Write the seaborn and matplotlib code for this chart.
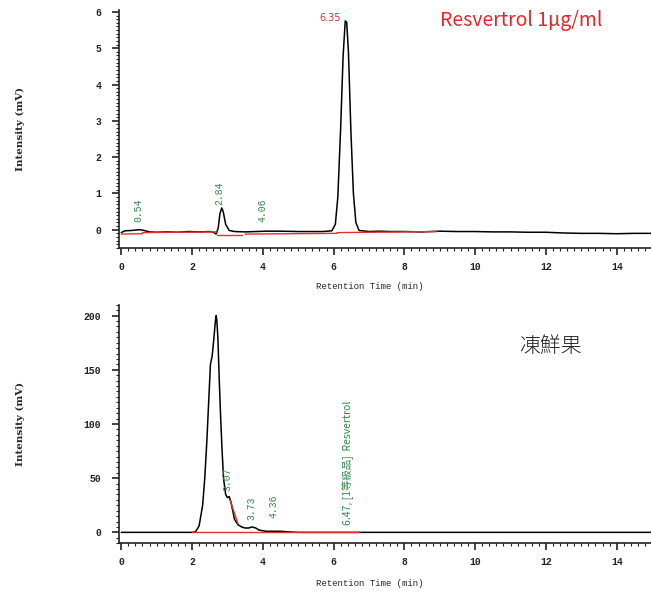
import matplotlib
matplotlib.use("Agg")
import matplotlib.pyplot as plt
import seaborn as sns
import pandas as pd
from matplotlib.ticker import MultipleLocator

# ---- data: standard (top) ----
std_time = [0.0, 0.1, 0.3, 0.5, 0.6, 0.8, 1.0, 1.3, 1.6, 1.9, 2.2, 2.5, 2.6, 2.68,
            2.74, 2.79, 2.84, 2.88, 2.95, 3.05, 3.2, 3.5, 3.8, 4.1, 4.5, 5.0, 5.4,
            5.7, 5.95, 6.05, 6.12, 6.2, 6.27, 6.33, 6.37, 6.42, 6.49, 6.56, 6.63,
            6.72, 7.0, 7.3, 7.6, 8.0, 8.5, 9.0, 9.5, 10.0, 10.5, 11.0, 11.5, 12.0,
            12.5, 13.0, 13.5, 14.0, 14.5, 15.0]
std_mv = [-0.08, -0.03, -0.02, 0.0, -0.01, -0.06, -0.07, -0.06, -0.07, -0.05, -0.06,
          -0.05, -0.07, -0.12, 0.05, 0.45, 0.6, 0.5, 0.15, -0.02, -0.05, -0.06,
          -0.05, -0.04, -0.04, -0.05, -0.05, -0.05, -0.03, 0.15, 0.9, 2.8, 4.8,
          5.75, 5.72, 4.9, 2.7, 1.0, 0.2, -0.02, -0.05, -0.04, -0.05, -0.05,
          -0.06, -0.04, -0.05, -0.05, -0.06, -0.06, -0.07, -0.07, -0.09, -0.10,
          -0.10, -0.11, -0.10, -0.10]
std_base_start = [0.0, 0.6, 2.7, 3.5, 6.1]
std_base_end = [0.6, 2.7, 3.4, 6.1, 8.9]
std_base_y0 = [-0.12, -0.08, -0.15, -0.12, -0.08]
std_base_y1 = [-0.11, -0.06, -0.15, -0.10, -0.05]
std_peak_rt = [0.54, 2.84, 4.06]
std_peak_lbl = ["0.54", "2.84", "4.06"]
std_peak_y = [0.22, 0.69, 0.22]

# ---- data: frozen fruit (bottom) ----
fr_time = [0.0, 1.0, 2.0, 2.1, 2.2, 2.3, 2.36, 2.42, 2.47, 2.52, 2.57, 2.62, 2.66,
           2.68, 2.7, 2.73, 2.77, 2.81, 2.85, 2.89, 2.95, 3.0, 3.05, 3.1, 3.15,
           3.2, 3.3, 3.4, 3.5, 3.6, 3.7, 3.8, 3.9, 4.0, 4.1, 4.3, 4.5, 4.7, 5.0,
           6.0, 7.0, 9.0, 11.0, 13.0, 15.0]
fr_mv = [0.0, 0.0, 0.0, 0.5, 6, 25, 50, 85, 120, 155, 163, 180, 195, 200, 196, 180,
         140, 105, 75, 50, 35, 32, 33, 28, 20, 12, 7, 5, 4, 4, 5, 4, 2, 1.5, 1, 1,
         1, 0.5, 0, 0, 0, 0, 0, 0, 0]
fr_base_start = [2.0, 3.07]
fr_base_end = [6.7, 3.3]
fr_base_y0 = [0.0, 30]
fr_base_y1 = [0.0, 8]
fr_peak_rt = [3.07, 3.73, 4.36, 6.47]
fr_peak_lbl = ["3.07", "3.73", "4.36", "6.47, [1等級品]  Resvertrol"]
fr_peak_y = [38, 11, 13, 6.5]

sns.set_style("ticks")
plt.rcParams['font.family'] = ['Liberation Mono', 'DejaVu Sans']

fig = plt.figure(figsize=(6.51, 5.93), dpi=100)
ax1 = fig.add_axes([0.183, 0.582, 0.817, 0.401])
ax2 = fig.add_axes([0.183, 0.084, 0.817, 0.402])

def style(ax, ylim, ymajor, yminor, xlab_y):
    ax.set_xlim(-0.06, 14.97)
    ax.set_ylim(*ylim)
    ax.xaxis.set_major_locator(MultipleLocator(2))
    ax.xaxis.set_minor_locator(MultipleLocator(0.2))
    ax.yaxis.set_major_locator(MultipleLocator(ymajor))
    ax.yaxis.set_minor_locator(MultipleLocator(yminor))
    ax.tick_params(axis='both', which='major', length=5, width=1.2, labelsize=7,
                   colors='#222222')
    ax.tick_params(axis='y', which='major', pad=8)
    ax.tick_params(axis='x', which='major', pad=5)
    ax.tick_params(axis='both', which='minor', length=2.5, width=0.8, colors='#222222')
    for lab in ax.get_xticklabels() + ax.get_yticklabels():
        lab.set_fontweight('bold')
    sns.despine(ax=ax)
    for s in ['left', 'bottom']:
        ax.spines[s].set_linewidth(1.2)
        ax.spines[s].set_color('#222222')
    ax.set_ylabel("Intensity (mV)", family='DejaVu Serif', fontweight='bold',
                  fontsize=7.5, va='center')
    ax.yaxis.set_label_coords(-0.186, 0.5)
    ax.set_xlabel("Retention Time (min)", fontsize=6.5, va='center')
    ax.xaxis.set_label_coords(0.472, xlab_y)

def peak_labels(ax, rts, lbls, ys):
    for rt, lbl, y in zip(rts, lbls, ys):
        ascii_lbl = lbl.isascii()
        ax.annotate(lbl, (rt, y), xytext=(-1.5, 0), textcoords='offset points',
                    rotation=90, color='#2e8b4a',
                    fontsize=7 if ascii_lbl else 7.5,
                    family=['Liberation Mono'] if ascii_lbl else ['Noto Sans CJK JP'],
                    ha='center', va='bottom')

# top
df1 = pd.DataFrame({"t": std_time, "mv": std_mv})
sns.lineplot(data=df1, x="t", y="mv", ax=ax1, color='black', linewidth=1.1)
for x0, x1, y0, y1 in zip(std_base_start, std_base_end, std_base_y0, std_base_y1):
    ax1.plot([x0, x1], [y0, y1], color='#e8302a', linewidth=1.0)
peak_labels(ax1, std_peak_rt, std_peak_lbl, std_peak_y)
style(ax1, (-0.5, 6.05), 1, 0.1, -0.164)
ax1.text(6.2, 5.82, "6.35", color='#d03040', fontsize=7, ha='right', va='center',
         family='DejaVu Sans')
ax1.text(9.0, 5.75, "Resvertrol 1\u03bcg/ml", color='#e8232a', fontsize=14,
         family='Noto Sans CJK JP', ha='left', va='center')

# bottom
df2 = pd.DataFrame({"t": fr_time, "mv": fr_mv})
sns.lineplot(data=df2, x="t", y="mv", ax=ax2, color='black', linewidth=1.1)
for x0, x1, y0, y1 in zip(fr_base_start, fr_base_end, fr_base_y0, fr_base_y1):
    ax2.plot([x0, x1], [y0, y1], color='#e8302a', linewidth=1.0)
peak_labels(ax2, fr_peak_rt, fr_peak_lbl, fr_peak_y)
style(ax2, (-10, 210), 50, 5, -0.168)
ax2.text(11.25, 172, "凍鮮果", color='#222222', fontsize=15,
         family='Noto Sans CJK JP', fontweight='light', ha='left', va='center')

fig.savefig("out.png", dpi=100)
